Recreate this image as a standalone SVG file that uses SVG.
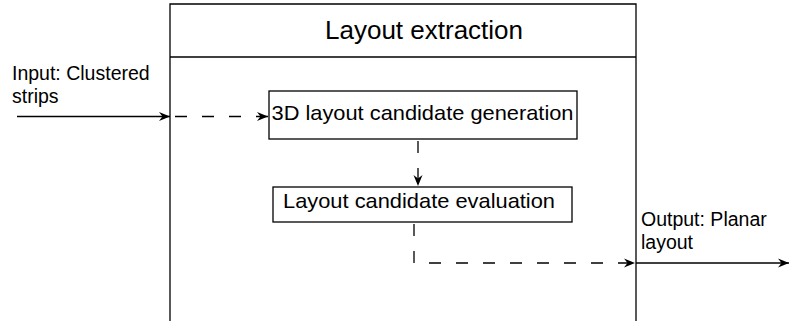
<svg xmlns="http://www.w3.org/2000/svg" width="790" height="321" viewBox="0 0 790 321">
<defs>
<style>
.box{fill:#fff;stroke:#000;stroke-width:1.3}
.ln{fill:none;stroke:#000;stroke-width:1.3}
.dash{stroke-dasharray:12 15}
text{font-family:"Liberation Sans",Arial,sans-serif;fill:#000}
.t{font-size:21px}
.lb{font-size:19.5px}
</style>
<marker id="ah" markerWidth="12" markerHeight="10" refX="11" refY="5" orient="auto" markerUnits="userSpaceOnUse">
<path d="M0,0.5 L11,5 L0,9.5 L3.5,5 z" fill="#000"/>
</marker>
</defs>
<g id="layout-extraction">
<path class="ln" d="M170,330 L170,4 L636,4 L636,330"/>
<line class="ln" x1="170" y1="57" x2="636" y2="57"/>
<text x="325" y="39" style="font-size:26px">Layout extraction</text>
</g>
<g id="gen">
<rect class="box" x="269" y="91" width="308" height="48"/>
<text class="t" x="271.5" y="120" textLength="302" lengthAdjust="spacingAndGlyphs">3D layout candidate generation</text>
</g>
<g id="eval">
<rect class="box" x="273" y="187" width="299" height="35"/>
<text class="t" x="283" y="208" textLength="272" lengthAdjust="spacingAndGlyphs">Layout candidate evaluation</text>
</g>
<g id="input-label">
<text class="lb" x="12" y="80">Input: Clustered</text>
<text class="lb" x="12" y="103">strips</text>
</g>
<g id="output-label">
<text class="lb" x="641" y="226">Output: Planar</text>
<text class="lb" x="641" y="249">layout</text>
</g>
<g id="connectors">
<line class="ln" x1="17" y1="116.5" x2="170" y2="116.5" marker-end="url(#ah)"/>
<line class="ln dash" x1="175" y1="116.5" x2="268" y2="116.5" marker-end="url(#ah)"/>
<line class="ln dash" x1="418" y1="141" x2="418" y2="186" marker-end="url(#ah)"/>
<path class="ln dash" d="M414,224 L414,263 L635,263" marker-end="url(#ah)"/>
<line class="ln" x1="636" y1="263" x2="789" y2="263" marker-end="url(#ah)"/>
</g>
</svg>
